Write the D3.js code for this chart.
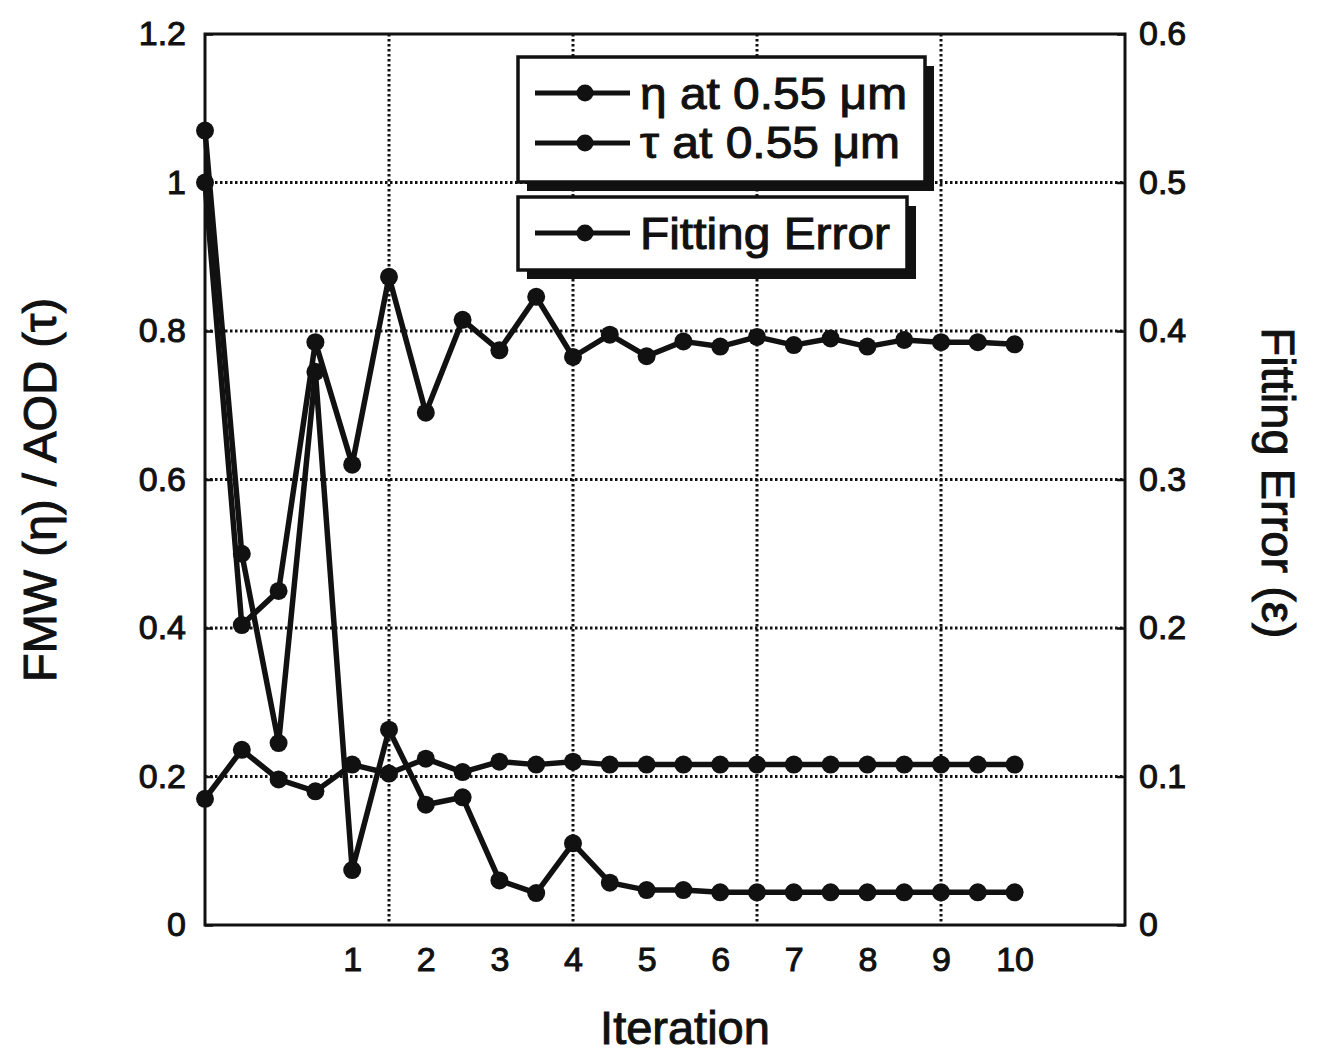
<!DOCTYPE html>
<html>
<head>
<meta charset="utf-8">
<script src="https://cdn.jsdelivr.net/npm/d3@7"></script>
<style>
  html, body { margin: 0; padding: 0; background: #fff; }
  svg { display: block; }
  text { font-family: "Liberation Sans", Arial, Helvetica, sans-serif; fill: #111; }
</style>
</head>
<body>
<svg id="chart" width="1321" height="1055"></svg>
<script>
// ---- data ----
const iterIndex = [0,1,2,3,4,5,6,7,8,9,10,11,12,13,14,15,16,17,18,19,20,21,22];
const etaValues = [1.00,0.404,0.45,0.785,0.62,0.873,0.69,0.815,0.774,0.846,0.765,0.795,0.766,0.786,0.779,0.792,0.781,0.79,0.779,0.788,0.785,0.785,0.782];
const tauValues = [1.07,0.50,0.245,0.745,0.074,0.263,0.162,0.172,0.06,0.043,0.11,0.057,0.047,0.047,0.044,0.044,0.044,0.044,0.044,0.044,0.044,0.044,0.044];
const errValues = [0.085,0.118,0.098,0.09,0.108,0.102,0.112,0.103,0.11,0.108,0.11,0.108,0.108,0.108,0.108,0.108,0.108,0.108,0.108,0.108,0.108,0.108,0.108];
const xTickIndex = [4,6,8,10,12,14,16,18,20,22];
const xTickLabels = ["1","2","3","4","5","6","7","8","9","10"];
const xGridIndex = [5,10,15,20];
const leftTicks = [0,0.2,0.4,0.6,0.8,1.0,1.2];
const rightTicks = [0,0.1,0.2,0.3,0.4,0.5,0.6];
const legendTop = ["η at 0.55 μm", "τ at 0.55 μm"];
const legendBottom = ["Fitting Error"];
const yLabelLeft = "FMW (η) / AOD (τ)";
const yLabelRight = "Fitting Error (ε)";
const xLabel = "Iteration";

// ---- layout ----
const L = 205, R = 1125, T = 34, B = 925;
const svg = d3.select("#chart");
const x = d3.scaleLinear().domain([0,25]).range([L,R]);
const yL = d3.scaleLinear().domain([0,1.2]).range([B,T]);
const yR = d3.scaleLinear().domain([0,0.6]).range([B,T]);
const fmt = d => String(+d.toFixed(1));

// grid
const grid = svg.append("g").attr("stroke","#111").attr("stroke-width",3).attr("stroke-dasharray","2.5,2.5");
grid.selectAll("line.h").data(leftTicks.slice(1,-1)).join("line")
  .attr("x1",L).attr("x2",R).attr("y1",d=>yL(d)).attr("y2",d=>yL(d));
grid.selectAll("line.v").data(xGridIndex).join("line")
  .attr("y1",T).attr("y2",B).attr("x1",d=>x(d)).attr("x2",d=>x(d));

// axes
const axL = svg.append("g").attr("transform",`translate(${L},0)`)
  .call(d3.axisLeft(yL).tickValues(leftTicks).tickFormat(fmt).tickSizeInner(-8).tickSizeOuter(0).tickPadding(19));
const axR = svg.append("g").attr("transform",`translate(${R},0)`)
  .call(d3.axisRight(yR).tickValues(rightTicks).tickFormat(fmt).tickSizeInner(-8).tickSizeOuter(0).tickPadding(14));
const axB = svg.append("g").attr("transform",`translate(0,${B})`)
  .call(d3.axisBottom(x).tickValues(xTickIndex).tickFormat((d,i)=>xTickLabels[i]).tickSizeInner(0).tickSizeOuter(0).tickPadding(22));
[axL,axR,axB].forEach(a=>{
  a.select(".domain").remove();
  a.selectAll(".tick line").attr("stroke","#111").attr("stroke-width",2.5);
  a.selectAll(".tick text").style("font-size","34px").style("font-family","'Liberation Sans', Arial, sans-serif")
    .attr("fill","#111").attr("stroke","#111").attr("stroke-width",1);
});

// frame
svg.append("rect").attr("x",L).attr("y",T).attr("width",R-L).attr("height",B-T)
  .attr("fill","none").attr("stroke","#111").attr("stroke-width",3);

// series
const lineL = d3.line().x((d,i)=>x(iterIndex[i])).y(d=>yL(d));
const lineR = d3.line().x((d,i)=>x(iterIndex[i])).y(d=>yR(d));
function drawSeries(vals, gen, ys){
  svg.append("path").datum(vals).attr("d",gen).attr("fill","none")
    .attr("stroke","#111").attr("stroke-width",5.5).attr("stroke-linejoin","round");
  svg.append("g").selectAll("circle").data(vals).join("circle")
    .attr("cx",(d,i)=>x(iterIndex[i])).attr("cy",d=>ys(d)).attr("r",9).attr("fill","#111");
}
drawSeries(errValues, lineR, yR);
drawSeries(tauValues, lineL, yL);
drawSeries(etaValues, lineL, yL);

// legends
function legendBox(x0,y0,w,h,rows,rowY,textY,len){
  const g = svg.append("g");
  g.append("rect").attr("x",x0+9).attr("y",y0+9).attr("width",w).attr("height",h).attr("fill","#111");
  g.append("rect").attr("x",x0).attr("y",y0).attr("width",w).attr("height",h).attr("fill","#fff").attr("stroke","#111").attr("stroke-width",3.5);
  rows.forEach((t,i)=>{
    g.append("line").attr("x1",535).attr("x2",630).attr("y1",rowY[i]).attr("y2",rowY[i]).attr("stroke","#111").attr("stroke-width",5);
    g.append("circle").attr("cx",585).attr("cy",rowY[i]).attr("r",8.5).attr("fill","#111");
    g.append("text").attr("x",640).attr("y",textY[i]).text(t)
      .style("font-size","44px").attr("textLength",len[i]).attr("lengthAdjust","spacingAndGlyphs")
      .attr("stroke","#111").attr("stroke-width",1);
  });
}
legendBox(518,57,407,125,legendTop,[93,143],[109,158],[267,260]);
legendBox(518,197,389,73,legendBottom,[233],[249],[250]);

// axis titles
svg.append("text").attr("transform","translate(56,490) rotate(-90)").attr("text-anchor","middle")
  .style("font-size","47px").attr("stroke","#111").attr("stroke-width",1).text(yLabelLeft);
svg.append("text").attr("transform","translate(1262,483) rotate(90)").attr("text-anchor","middle")
  .style("font-size","47px").attr("stroke","#111").attr("stroke-width",1).text(yLabelRight);
svg.append("text").attr("x",685).attr("y",1044).attr("text-anchor","middle")
  .style("font-size","47px").attr("stroke","#111").attr("stroke-width",1).text(xLabel);
</script>
</body>
</html>
